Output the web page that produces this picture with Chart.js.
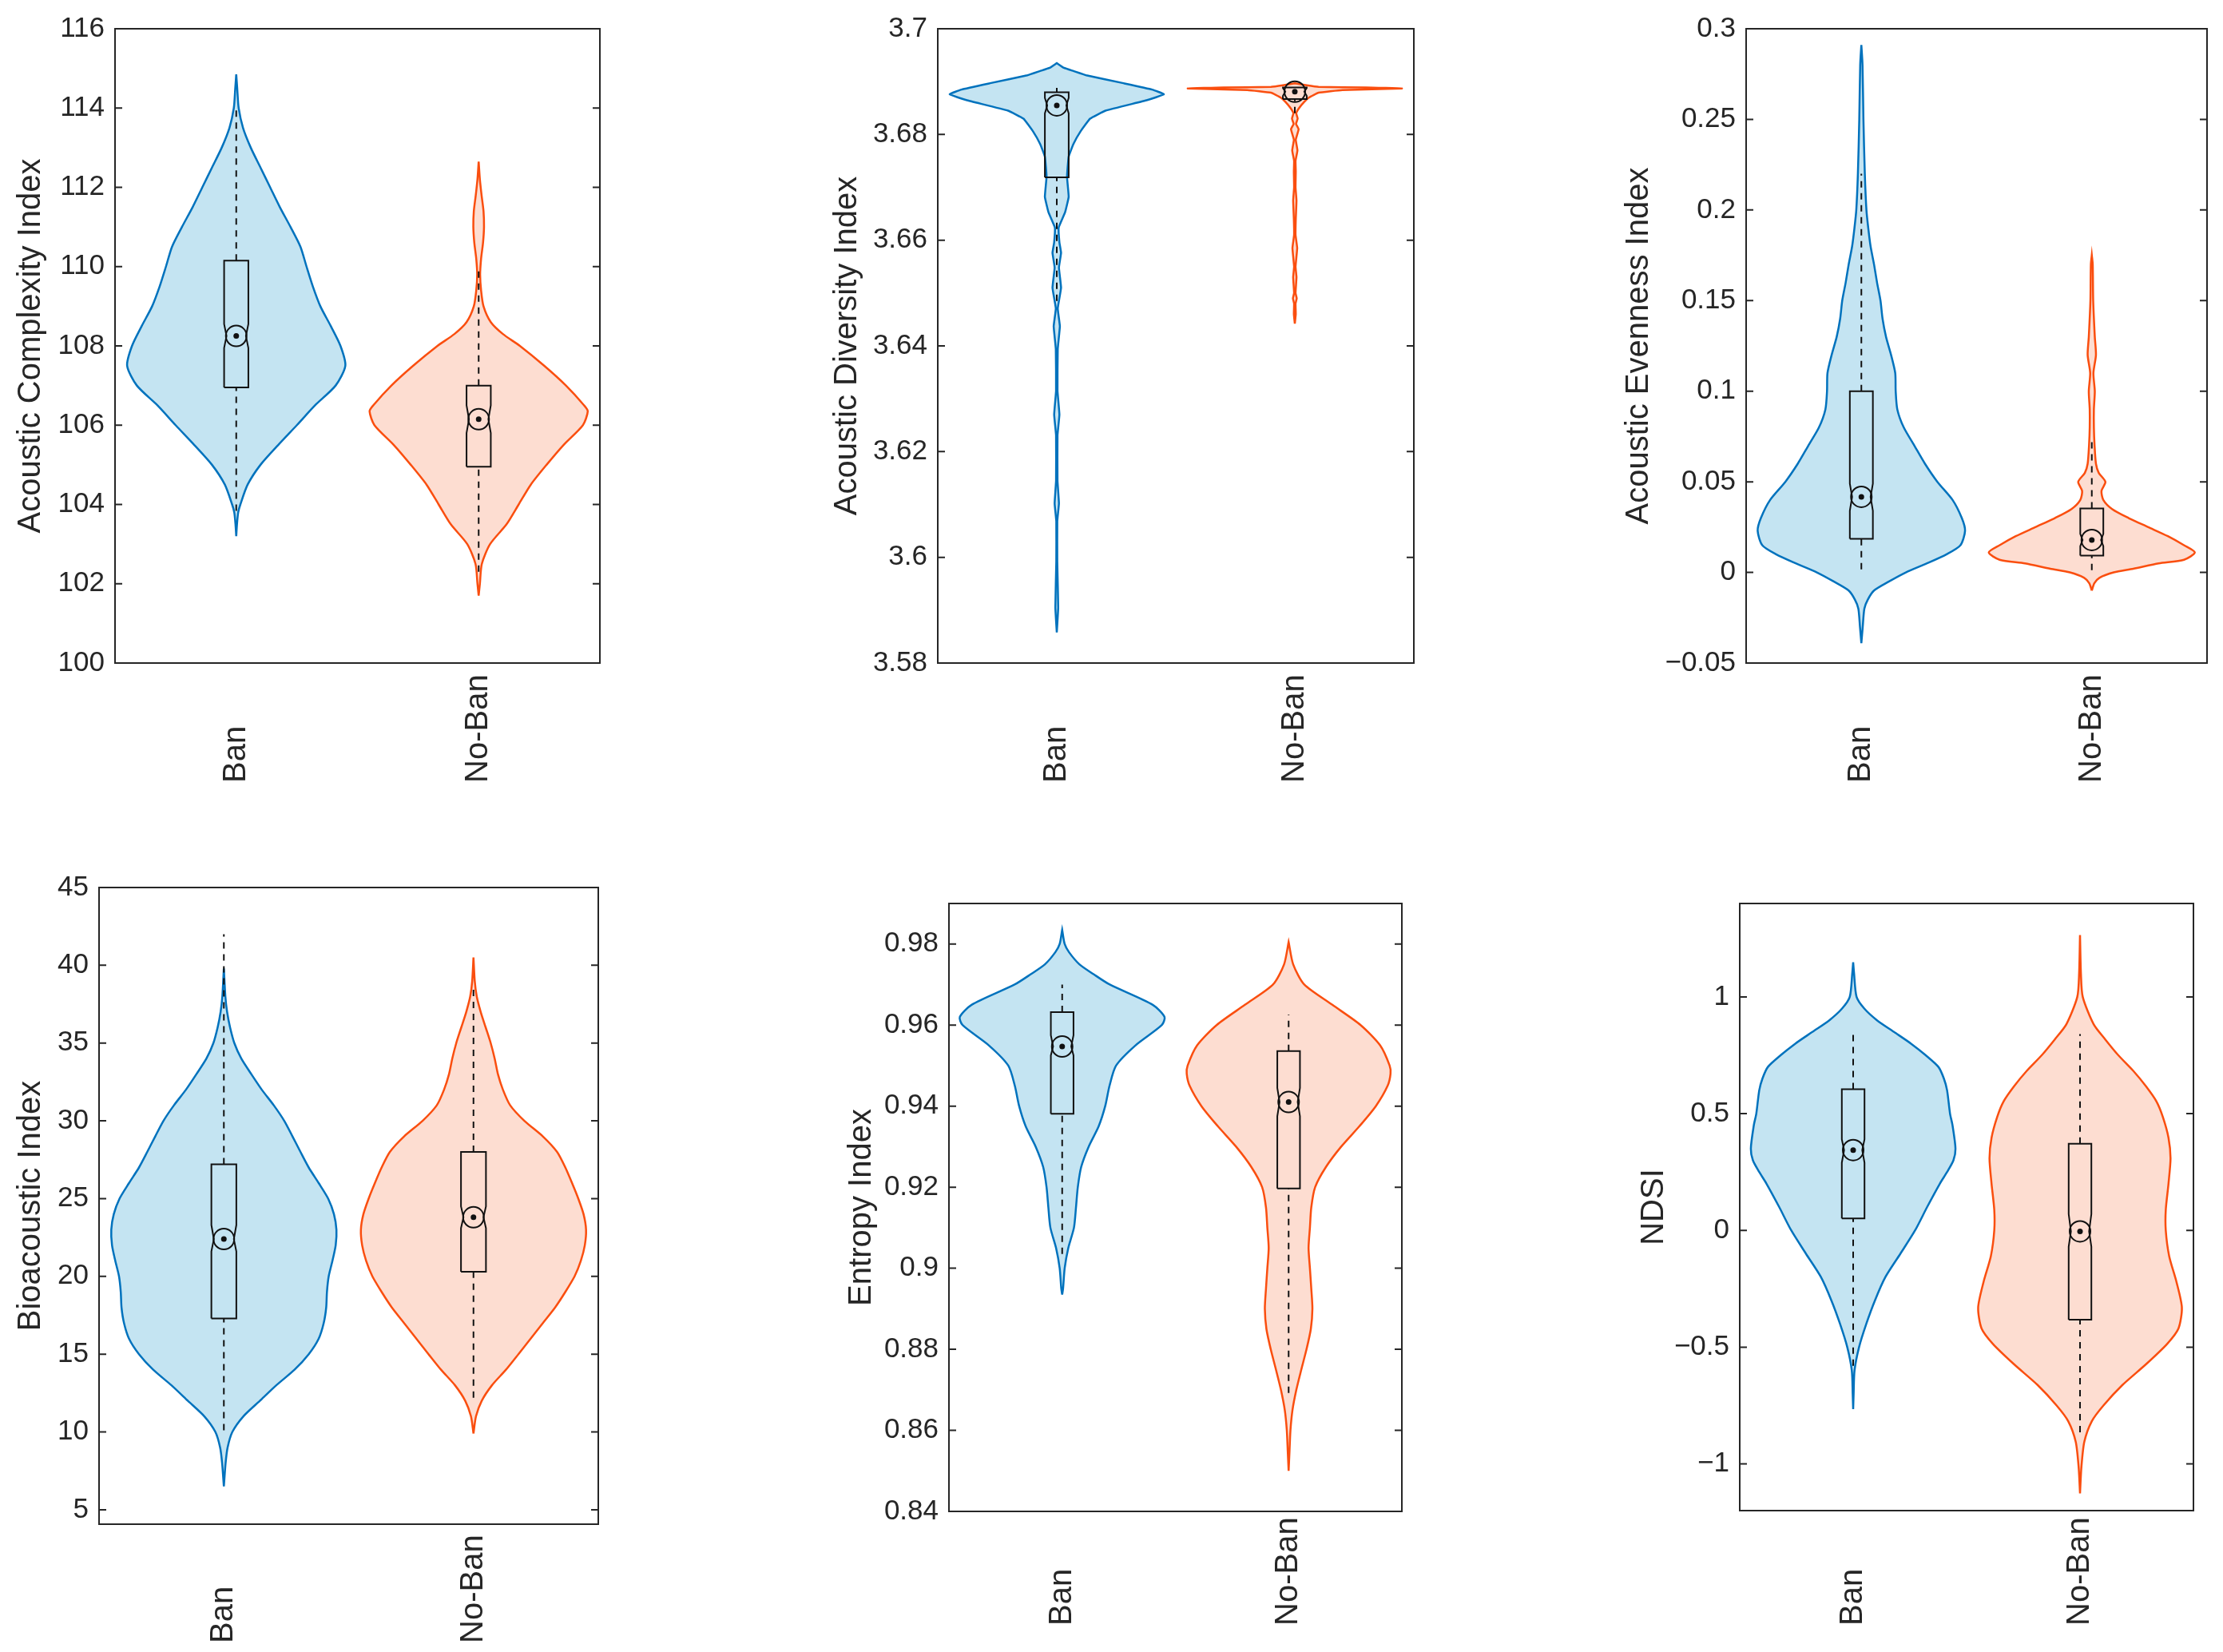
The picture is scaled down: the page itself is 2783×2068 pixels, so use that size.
<!DOCTYPE html>
<html>
<head>
<meta charset="utf-8">
<script src="https://cdn.jsdelivr.net/npm/chart.js@4.4.1/dist/chart.umd.min.js"></script>
<style>
  html, body { margin: 0; padding: 0; background: #fff; }
  body { width: 2783px; height: 2068px; position: relative; overflow: hidden; }
  .panel { position: absolute; }
</style>
</head>
<body>
<script>
// groups and axis text
const groups = ['Ban', 'No-Ban'];
const yTitles = ['Acoustic Complexity Index', 'Acoustic Diversity Index', 'Acoustic Evenness Index',
                 'Bioacoustic Index', 'Entropy Index', 'NDSI'];
const yLimits = [[100, 116], [3.58, 3.7], [-0.05, 0.3], [4.07, 45], [0.84, 0.99], [-1.2, 1.4]];
const yTicks = [
  [100, 102, 104, 106, 108, 110, 112, 114, 116],
  [3.58, 3.6, 3.62, 3.64, 3.66, 3.68, 3.7],
  [-0.05, 0, 0.05, 0.1, 0.15, 0.2, 0.25, 0.3],
  [5, 10, 15, 20, 25, 30, 35, 40, 45],
  [0.84, 0.86, 0.88, 0.9, 0.92, 0.94, 0.96, 0.98],
  [-1, -0.5, 0, 0.5, 1]
];
const yTickLabels = [
  ['100', '102', '104', '106', '108', '110', '112', '114', '116'],
  ['3.58', '3.6', '3.62', '3.64', '3.66', '3.68', '3.7'],
  ['\u22120.05', '0', '0.05', '0.1', '0.15', '0.2', '0.25', '0.3'],
  ['5', '10', '15', '20', '25', '30', '35', '40', '45'],
  ['0.84', '0.86', '0.88', '0.9', '0.92', '0.94', '0.96', '0.98'],
  ['\u22121', '\u22120.5', '0', '0.5', '1']
];

// violin outlines: value levels and half widths (in category units)
const aciBanY = [103.2, 103.5, 103.8, 104, 104.5, 105, 105.5, 106, 106.5, 107, 107.5, 108, 108.5, 109, 109.5, 110, 110.5, 111, 111.5, 112, 112.5, 113, 113.5, 114, 114.5, 114.85];
const aciBanW = [0, 0.003, 0.008, 0.017, 0.047, 0.1, 0.173, 0.25, 0.325, 0.41, 0.45, 0.43, 0.39, 0.347, 0.316, 0.29, 0.265, 0.224, 0.18, 0.14, 0.1, 0.06, 0.028, 0.01, 0.004, 0];
const aciNoBanY = [101.7, 102, 102.5, 103, 103.5, 104, 104.5, 105, 105.5, 106, 106.35, 106.5, 107, 107.5, 108, 108.3, 108.6, 109, 109.4, 109.8, 110.2, 110.6, 111, 111.4, 111.8, 112.2, 112.65];
const aciNoBanW = [0, 0.005, 0.013, 0.047, 0.115, 0.165, 0.215, 0.28, 0.35, 0.43, 0.45, 0.435, 0.36, 0.27, 0.17, 0.1, 0.05, 0.02, 0.01, 0.006, 0.01, 0.018, 0.022, 0.02, 0.012, 0.005, 0];

const adiBanY = [3.5858, 3.5905, 3.5992, 3.6068, 3.6102, 3.6145, 3.6231, 3.627, 3.6315, 3.6394, 3.6437, 3.6471, 3.651, 3.6548, 3.6576, 3.6596, 3.6624, 3.6653, 3.6682, 3.672, 3.6758, 3.6782, 3.6806, 3.683, 3.6845, 3.6865, 3.6876, 3.6885, 3.6897, 3.6912, 3.692, 3.6926, 3.6935];
const adiBanW = [0, 0.006, 0.002, 0.002, 0.009, 0.003, 0.003, 0.011, 0.003, 0.004, 0.013, 0.004, 0.018, 0.009, 0.018, 0.011, 0.008, 0.035, 0.05, 0.043, 0.05, 0.07, 0.1, 0.14, 0.205, 0.38, 0.45, 0.4, 0.28, 0.124, 0.07, 0.03, 0];
const adiNoBanY = [3.6442, 3.646, 3.648, 3.649, 3.65, 3.653, 3.655, 3.6585, 3.661, 3.664, 3.6675, 3.67, 3.673, 3.675, 3.677, 3.679, 3.681, 3.682, 3.683, 3.684, 3.685, 3.6862, 3.687, 3.6879, 3.6884, 3.6887, 3.6889, 3.689, 3.6893, 3.6897];
const adiNoBanW = [0, 0.004, 0.003, 0.008, 0.003, 0.007, 0.003, 0.01, 0.003, 0.004, 0.007, 0.003, 0.004, 0.003, 0.011, 0.004, 0.016, 0.005, 0.012, 0.006, 0.018, 0.04, 0.06, 0.1, 0.2, 0.45, 0.3, 0.1, 0.05, 0];

const aeiBanY = [-0.039, -0.03, -0.02, -0.015, -0.01, -0.005, 0, 0.005, 0.01, 0.015, 0.023, 0.03, 0.04, 0.05, 0.06, 0.07, 0.08, 0.09, 0.1, 0.11, 0.12, 0.13, 0.14, 0.15, 0.16, 0.17, 0.18, 0.19, 0.2, 0.22, 0.25, 0.28, 0.291];
const aeiBanW = [0, 0.006, 0.013, 0.028, 0.055, 0.12, 0.193, 0.285, 0.37, 0.43, 0.45, 0.436, 0.396, 0.33, 0.276, 0.23, 0.184, 0.156, 0.149, 0.147, 0.129, 0.107, 0.092, 0.083, 0.068, 0.055, 0.04, 0.03, 0.022, 0.015, 0.009, 0.005, 0];
const aeiNoBanY = [-0.01, -0.006, -0.003, 0, 0.002, 0.005, 0.007, 0.011, 0.015, 0.02, 0.025, 0.03, 0.035, 0.04, 0.045, 0.05, 0.055, 0.06, 0.07, 0.08, 0.09, 0.1, 0.11, 0.12, 0.13, 0.15, 0.17, 0.175];
const aeiNoBanW = [0, 0.011, 0.033, 0.095, 0.18, 0.29, 0.4, 0.447, 0.4, 0.33, 0.245, 0.16, 0.088, 0.05, 0.042, 0.059, 0.03, 0.018, 0.012, 0.009, 0.009, 0.013, 0.007, 0.018, 0.013, 0.006, 0.004, 0];

const biBanY = [6.5, 8, 9, 10, 11, 12, 13, 14, 15, 16, 17, 18, 19, 20, 21, 22, 23, 24, 25, 26, 27, 28, 29, 30, 31, 32, 33, 34, 35, 36, 37, 38, 39.8];
const biBanW = [0, 0.007, 0.015, 0.034, 0.078, 0.144, 0.21, 0.283, 0.34, 0.38, 0.4, 0.41, 0.413, 0.42, 0.435, 0.448, 0.451, 0.441, 0.418, 0.38, 0.34, 0.307, 0.275, 0.242, 0.2, 0.152, 0.11, 0.07, 0.042, 0.025, 0.013, 0.006, 0];
const biNoBanY = [9.9, 11, 12, 13, 14, 15, 16, 17, 18, 19, 20, 21, 22, 23, 24, 25, 26, 27, 28, 29, 30, 31, 32, 33, 34, 35, 36, 37, 38, 39, 40.5];
const biNoBanW = [0, 0.01, 0.033, 0.074, 0.13, 0.18, 0.229, 0.278, 0.327, 0.368, 0.405, 0.43, 0.446, 0.451, 0.441, 0.42, 0.395, 0.368, 0.335, 0.278, 0.204, 0.147, 0.118, 0.098, 0.085, 0.069, 0.049, 0.029, 0.013, 0.005, 0];

const hBanY = [0.8935, 0.895, 0.9, 0.905, 0.91, 0.915, 0.92, 0.925, 0.93, 0.935, 0.94, 0.945, 0.95, 0.955, 0.96, 0.962, 0.965, 0.97, 0.9725, 0.975, 0.978, 0.98, 0.9835];
const hBanW = [0, 0.004, 0.011, 0.027, 0.052, 0.061, 0.069, 0.084, 0.117, 0.161, 0.19, 0.209, 0.238, 0.324, 0.44, 0.452, 0.4, 0.21, 0.14, 0.076, 0.03, 0.011, 0];
const hNoBanY = [0.85, 0.855, 0.86, 0.865, 0.87, 0.875, 0.88, 0.885, 0.89, 0.895, 0.9, 0.905, 0.91, 0.915, 0.92, 0.925, 0.93, 0.935, 0.94, 0.945, 0.948, 0.95, 0.955, 0.96, 0.965, 0.97, 0.975, 0.9805];
const hNoBanW = [0, 0.004, 0.008, 0.017, 0.034, 0.056, 0.079, 0.098, 0.105, 0.1, 0.094, 0.088, 0.094, 0.1, 0.117, 0.165, 0.232, 0.312, 0.385, 0.437, 0.45, 0.446, 0.404, 0.318, 0.193, 0.069, 0.02, 0];

const ndsiBanY = [-0.765, -0.7, -0.6, -0.5, -0.4, -0.3, -0.2, -0.1, 0, 0.1, 0.2, 0.25, 0.3, 0.35, 0.45, 0.5, 0.6, 0.65, 0.7, 0.75, 0.8, 0.85, 0.9, 0.95, 1.0, 1.1, 1.148];
const ndsiBanW = [0, 0.002, 0.006, 0.026, 0.058, 0.096, 0.142, 0.208, 0.273, 0.326, 0.382, 0.414, 0.442, 0.451, 0.438, 0.427, 0.414, 0.4, 0.376, 0.32, 0.255, 0.18, 0.105, 0.049, 0.015, 0.004, 0];
const ndsiNoBanY = [-1.126, -1.015, -0.905, -0.817, -0.75, -0.662, -0.574, -0.486, -0.42, -0.33, -0.22, -0.11, 0, 0.088, 0.2, 0.309, 0.397, 0.486, 0.552, 0.618, 0.684, 0.75, 0.817, 0.883, 1.0, 1.1, 1.265];
const ndsiNoBanW = [0, 0.006, 0.019, 0.052, 0.103, 0.187, 0.29, 0.384, 0.434, 0.449, 0.425, 0.393, 0.378, 0.378, 0.39, 0.399, 0.39, 0.365, 0.337, 0.29, 0.234, 0.169, 0.112, 0.06, 0.012, 0.004, 0];

// box stats: [lower whisker, q1, notch low, median, notch high, q3, upper whisker]
const aciBanBox = [103.84, 106.95, 107.95, 108.25, 108.55, 110.15, 114.0];
const aciNoBanBox = [102.3, 104.95, 105.8, 106.15, 106.5, 107.0, 110.0];
const adiBanBox = [3.6485, 3.6719, 3.684, 3.6855, 3.6869, 3.688, 3.6888];
const adiNoBanBox = [3.684, 3.6867, 3.6873, 3.6881, 3.6888, 3.6889, 3.6889];
const aeiBanBox = [0.0017, 0.0185, 0.034, 0.0417, 0.049, 0.1, 0.22];
const aeiNoBanBox = [0.0012, 0.0093, 0.0145, 0.0179, 0.0213, 0.0353, 0.0738];
const biBanBox = [10.1, 17.3, 21.6, 22.4, 23.3, 27.2, 42.0];
const biNoBanBox = [12.2, 20.3, 23.1, 23.8, 24.5, 28.0, 38.6];
const hBanBox = [0.9035, 0.9381, 0.9525, 0.9547, 0.9575, 0.9632, 0.970];
const hNoBanBox = [0.8692, 0.9197, 0.9375, 0.941, 0.9445, 0.9536, 0.9626];
const ndsiBanBox = [-0.58, 0.051, 0.29, 0.344, 0.39, 0.605, 0.85];
const ndsiNoBanBox = [-0.865, -0.382, -0.07, -0.004, 0.07, 0.371, 0.841];

const violins = [
  [[aciBanY, aciBanW, aciBanBox], [aciNoBanY, aciNoBanW, aciNoBanBox]],
  [[adiBanY, adiBanW, adiBanBox], [adiNoBanY, adiNoBanW, adiNoBanBox]],
  [[aeiBanY, aeiBanW, aeiBanBox], [aeiNoBanY, aeiNoBanW, aeiNoBanBox]],
  [[biBanY, biBanW, biBanBox], [biNoBanY, biNoBanW, biNoBanBox]],
  [[hBanY, hBanW, hBanBox], [hNoBanY, hNoBanW, hNoBanBox]],
  [[ndsiBanY, ndsiBanW, ndsiBanBox], [ndsiNoBanY, ndsiNoBanW, ndsiNoBanBox]]
];

// page layout: plot box left, top, right, bottom, y-axis band width, label offset
const frames = [
  [144, 32, 751, 830, 129, 150],
  [1174, 32, 1770, 830, 137, 150],
  [2186, 32, 2763, 830, 158, 150],
  [124, 1107, 749, 1908, 109, 149],
  [1188, 1127, 1755, 1892, 133, 143],
  [2178, 1127, 2746, 1891, 131, 144]
];

const FONT = '"Liberation Sans", Arial, Helvetica, sans-serif';
const INK = '#262626';
const edgeColors = ['#0072BD', 'rgb(250,78,15)'];
const fillColors = ['rgb(196,228,242)', 'rgb(253,221,209)'];

// frame with inward ticks on both sides plus rotated group names
const framePlugin = {
  id: 'frame',
  afterDraw(chart, args, opts) {
    const {ctx, chartArea: a, scales: {x, y}} = chart;
    ctx.save();
    ctx.strokeStyle = INK;
    ctx.lineWidth = 2;
    ctx.strokeRect(a.left, a.top, a.right - a.left, a.bottom - a.top);
    ctx.beginPath();
    y.ticks.forEach(t => {
      const py = y.getPixelForValue(t.value);
      ctx.moveTo(a.left, py); ctx.lineTo(a.left + 9, py);
      ctx.moveTo(a.right, py); ctx.lineTo(a.right - 9, py);
    });
    ctx.stroke();
    ctx.fillStyle = INK;
    ctx.font = '40px ' + FONT;
    ctx.textAlign = 'left';
    ctx.textBaseline = 'middle';
    groups.forEach((g, i) => {
      ctx.save();
      ctx.translate(x.getPixelForValue(i + 1), a.bottom + opts.labelOffset);
      ctx.rotate(-Math.PI / 2);
      ctx.fillText(g, 0, 0);
      ctx.restore();
    });
    ctx.restore();
  }
};

function outline(pos, ys, ws) {
  const right = ys.map((v, k) => ({x: pos + ws[k], y: v}));
  const left = ys.map((v, k) => ({x: pos - ws[k], y: v})).reverse();
  return right.concat(left);
}

function notchedBox(pos, s) {
  const b = 0.05, n = 0.04;
  return [
    {x: pos - b, y: s[1]}, {x: pos - b, y: s[2]}, {x: pos - n, y: s[3]}, {x: pos - b, y: s[4]}, {x: pos - b, y: s[5]},
    {x: pos + b, y: s[5]}, {x: pos + b, y: s[4]}, {x: pos + n, y: s[3]}, {x: pos + b, y: s[2]}, {x: pos + b, y: s[1]},
    {x: pos - b, y: s[1]}
  ];
}

function whiskers(pos, s) {
  return [{x: pos, y: s[0]}, {x: pos, y: s[1]}, {x: pos, y: null}, {x: pos, y: s[5]}, {x: pos, y: s[6]}];
}

frames.forEach((f, p) => {
  const [L, T, R, B, yw, labelOffset] = f;
  const padTop = 30, padRight = 15, xh = 160;
  const div = document.createElement('div');
  div.className = 'panel';
  div.style.left = (L - yw) + 'px';
  div.style.top = (T - padTop) + 'px';
  div.style.width = (yw + (R - L) + padRight) + 'px';
  div.style.height = (padTop + (B - T) + xh) + 'px';
  const canvas = document.createElement('canvas');
  div.appendChild(canvas);
  document.body.appendChild(div);

  const datasets = [];
  violins[p].forEach(([ys, ws, box], i) => {
    const pos = i + 1;
    datasets.push({
      data: outline(pos, ys, ws), borderColor: edgeColors[i], backgroundColor: fillColors[i],
      borderWidth: 2.5, fill: 'shape', tension: p === 1 ? 0.1 : 0.25, pointRadius: 0, order: 4
    });
    datasets.push({
      data: whiskers(pos, box), borderColor: '#111', borderWidth: 2, borderDash: [8, 7],
      fill: false, pointRadius: 0, order: 3
    });
    datasets.push({
      data: notchedBox(pos, box), borderColor: '#111', borderWidth: 2, fill: false, pointRadius: 0, order: 2
    });
    datasets.push({
      data: [{x: pos, y: box[3]}], showLine: false, pointRadius: 13, pointBorderWidth: 2,
      pointBorderColor: '#111', pointBackgroundColor: 'rgba(0,0,0,0)', order: 1
    });
    datasets.push({
      data: [{x: pos, y: box[3]}], showLine: false, pointRadius: 3.5, pointBorderWidth: 0,
      pointBackgroundColor: '#111', order: 0
    });
  });

  new Chart(canvas.getContext('2d'), {
    type: 'line',
    data: {datasets},
    options: {
      indexAxis: 'y',
      animation: false,
      responsive: true,
      maintainAspectRatio: false,
      layout: {padding: {top: padTop, right: padRight, left: 0, bottom: 0}},
      plugins: {legend: {display: false}, tooltip: {enabled: false}, frame: {labelOffset}},
      scales: {
        x: {
          type: 'linear', min: 0.5, max: 2.5, bounds: 'data',
          grid: {display: false, drawTicks: false}, border: {display: false},
          ticks: {display: false},
          afterFit: s => { s.height = xh; }
        },
        y: {
          type: 'linear', min: yLimits[p][0], max: yLimits[p][1], bounds: 'data',
          grid: {display: false, drawTicks: false}, border: {display: false},
          afterBuildTicks: s => { s.ticks = yTicks[p].map(v => ({value: v})); },
          ticks: {
            autoSkip: false, padding: 13, color: INK, font: {family: FONT, size: 35},
            callback: (v, k) => yTickLabels[p][k]
          },
          title: {display: true, text: yTitles[p], color: INK, font: {family: FONT, size: 40}, padding: 0},
          afterFit: s => { s.width = yw; }
        }
      }
    },
    plugins: [framePlugin]
  });
});
</script>
</body>
</html>
